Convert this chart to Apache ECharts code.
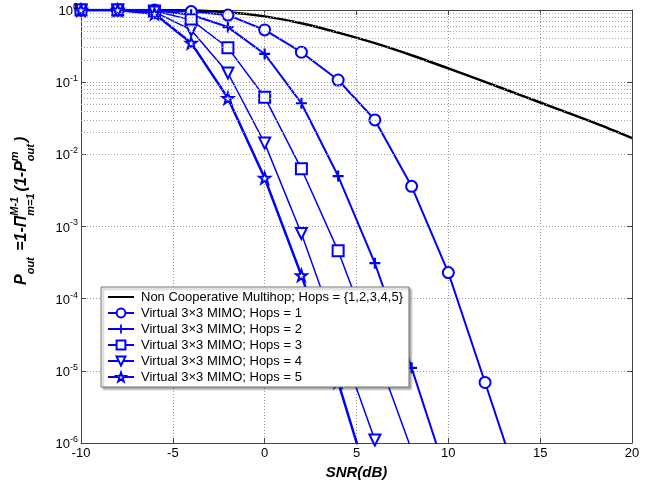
<!DOCTYPE html>
<html>
<head>
<meta charset="utf-8">
<script src="https://cdn.jsdelivr.net/npm/echarts@6/dist/echarts.min.js"></script>
<style>
  html, body { margin: 0; padding: 0; background: #fff; }
  #chart { width: 662px; height: 482px; }
</style>
</head>
<body>
<div id="chart"></div>
<script>
// SNR grid (dB) shared by all curves
const snrDb = [-10, -8, -6, -4, -2, 0, 2, 4, 6, 8, 10, 12, 14, 16, 18, 20]

// outage probability
const nonCoop = [1, 1, 0.9988, 0.986, 0.931, 0.816, 0.656, 0.486, 0.347, 0.236, 0.155, 0.101, 0.065, 0.042, 0.027, 0.0168]
const hops1 = [1, 1, 1, 0.95, 0.85, 0.53, 0.26, 0.107, 0.030, 0.0036, 2.3e-4, 6.9e-6, 2e-7]
const hops2 = [1, 1, 0.99, 0.86, 0.58, 0.246, 0.051, 0.005, 3.1e-4, 1.1e-5, 3e-7]
const hops3 = [1, 1, 0.97, 0.73, 0.30, 0.062, 0.0063, 4.6e-4, 2e-5, 8e-7]
const hops4 = [1, 1, 0.94, 0.53, 0.134, 0.0143, 8e-4, 3e-5, 1.1e-6]
const hops5 = [1, 1, 0.89, 0.35, 0.06, 0.0047, 2.1e-4, 7e-6, 1.5e-7]

const seriesNames = [
  'Non Cooperative Multihop; Hops = {1,2,3,4,5}',
  'Virtual 3\u00d73 MIMO; Hops = 1',
  'Virtual 3\u00d73 MIMO; Hops = 2',
  'Virtual 3\u00d73 MIMO; Hops = 3',
  'Virtual 3\u00d73 MIMO; Hops = 4',
  'Virtual 3\u00d73 MIMO; Hops = 5'
]

// log axis minor grid: 2..9 in every decade
const decades = [-6, -5, -4, -3, -2, -1]
const minorSteps = [2, 3, 4, 5, 6, 7, 8, 9]

const BLUE = '#0000ff'
const FONT = 'Liberation Sans, Arial, sans-serif'
const AXIS = '#444'

function pairs (ys) {
  return ys.map((y, i) => [snrDb[i], y])
}

const minorLines = []
decades.forEach(d => minorSteps.forEach(m => minorLines.push({ yAxis: m * Math.pow(10, d) })))

// y axis title built from pieces (sub/superscripts stacked like the original)
function measure (txt, font) {
  const ctx = measure.ctx || (measure.ctx = document.createElement('canvas').getContext('2d'))
  ctx.font = font
  return ctx.measureText(txt).width
}
function buildYTitle () {
  const mainFont = 'italic bold 16px ' + FONT
  const smallFont = 'italic bold 11px ' + FONT
  const parts = [
    { t: 'P' }, { sub: 'out' }, { t: ' =1-\u03a0' }, { sup: 'M-1', sub: 'm=1' },
    { t: '(1-P' }, { sup: 'm', sub: 'out' }, { t: ')' }
  ]
  const kids = []
  let x = 0
  const txt = (s, f, y) => ({
    type: 'text',
    x: x,
    y: y,
    style: { text: s, font: f, fill: '#000', align: 'left', verticalAlign: 'middle', textAlign: 'left', textVerticalAlign: 'middle' }
  })
  parts.forEach(p => {
    if (p.t) {
      kids.push(txt(p.t, mainFont, 0))
      x += measure(p.t, mainFont)
    } else {
      let w = 0
      if (p.sup) { kids.push(txt(p.sup, smallFont, -7)); w = measure(p.sup, smallFont) }
      if (p.sub) { kids.push(txt(p.sub, smallFont, 9)); w = Math.max(w, measure(p.sub, smallFont)) }
      x += w + 2
    }
  })
  return { type: 'group', x: 22, y: 285, rotation: Math.PI / 2, children: kids }
}

const lineSeries = (name, data, symbol, width, itemStyle) => ({
  name: name,
  type: 'line',
  data: pairs(data),
  symbol: symbol,
  symbolSize: 11,
  showSymbol: true,
  lineStyle: { color: BLUE, width: width },
  itemStyle: itemStyle,
  emphasis: { disabled: true },
  z: 3
})
const hollow = { color: '#fff', borderColor: BLUE, borderWidth: 2 }

const logAxis = extra => Object.assign({
  type: 'log',
  logBase: 10,
  min: 1e-6,
  max: 1,
  axisLine: { show: true, onZero: false, lineStyle: { color: AXIS, width: 1 } },
  axisTick: { show: true, inside: true, length: 5, lineStyle: { color: AXIS } },
  axisLabel: { show: false },
  splitLine: { show: false }
}, extra)

const chart = echarts.init(document.getElementById('chart'), null, { renderer: 'canvas' })
chart.setOption({
  backgroundColor: '#fff',
  animation: false,
  textStyle: { fontFamily: FONT },
  grid: { left: 81, right: 30, top: 10, bottom: 39, outerBoundsMode: 'none', containLabel: false },
  xAxis: [{
    type: 'value',
    min: -10,
    max: 20,
    interval: 5,
    name: 'SNR(dB)',
    nameLocation: 'middle',
    nameGap: 21,
    nameTextStyle: { fontSize: 15, fontWeight: 'bold', fontStyle: 'italic', color: '#000', fontFamily: FONT },
    axisLine: { onZero: false, lineStyle: { color: AXIS, width: 1 } },
    axisTick: { inside: true, length: 5, lineStyle: { color: AXIS } },
    axisLabel: { color: '#000', fontSize: 13, margin: 4, fontFamily: FONT },
    splitLine: { show: true, lineStyle: { color: '#999', type: [1, 2], width: 1 } }
  }, {
    type: 'value',
    position: 'top',
    min: -10,
    max: 20,
    interval: 5,
    axisLine: { onZero: false, lineStyle: { color: AXIS, width: 1 } },
    axisTick: { inside: true, length: 5, lineStyle: { color: AXIS } },
    axisLabel: { show: false },
    splitLine: { show: false }
  }],
  yAxis: [
    logAxis({ splitLine: { show: true, lineStyle: { color: '#999', type: [1, 2], width: 1 } } }),
    logAxis({ position: 'right' }),
    // labels only, kept above the markers sitting on the left edge
    logAxis({
      position: 'left',
      z: 6,
      axisLine: { show: false },
      axisTick: { show: false },
      axisLabel: {
        color: '#000',
        margin: 3,
        formatter: v => '{b|10}{e|' + Math.round(Math.log10(v)) + '}',
        rich: {
          b: { fontSize: 13, fontFamily: FONT, color: '#000', verticalAlign: 'bottom', lineHeight: 16 },
          e: { fontSize: 9, fontFamily: FONT, color: '#000', verticalAlign: 'top', lineHeight: 16 }
        }
      }
    })
  ],
  legend: {
    orient: 'vertical',
    left: 101,
    top: 287,
    data: [{ name: seriesNames[0], itemStyle: { opacity: 0 } }].concat(seriesNames.slice(1)),
    backgroundColor: '#fff',
    borderColor: '#777',
    borderWidth: 1,
    borderRadius: 0,
    padding: [3, 6, 3, 6],
    itemGap: 2,
    itemWidth: 26,
    itemHeight: 11,
    shadowColor: 'rgba(0,0,0,0.35)',
    shadowBlur: 2,
    shadowOffsetX: 2,
    shadowOffsetY: 2,
    textStyle: { fontSize: 13, color: '#000', fontFamily: FONT, lineHeight: 14, padding: [0, 0, 0, 2] }
  },
  graphic: [buildYTitle()],
  series: [
    {
      name: 'minor-grid',
      type: 'line',
      data: [],
      silent: true,
      z: 1,
      markLine: {
        silent: true,
        symbol: 'none',
        label: { show: false },
        lineStyle: { color: '#aaa', type: [1, 2], width: 1 },
        emphasis: { disabled: true },
        animation: false,
        data: minorLines
      }
    },
    {
      name: seriesNames[0],
      type: 'line',
      data: pairs(nonCoop),
      smooth: 0.3,
      showSymbol: false,
      symbol: 'none',
      lineStyle: { color: '#000', width: 2.5 },
      itemStyle: { color: '#000' },
      emphasis: { disabled: true },
      z: 2
    },
    lineSeries(seriesNames[1], hops1, 'circle', 2, hollow),
    lineSeries(seriesNames[2], hops2, 'path://M4,0H6V4H10V6H6V10H4V6H0V4H4Z', 2, { color: BLUE }),
    lineSeries(seriesNames[3], hops3, 'rect', 1.5, hollow),
    lineSeries(seriesNames[4], hops4, 'path://M0,0L10,0L5,9Z', 1.5, hollow),
    lineSeries(seriesNames[5], hops5, 'path://M5,0L6.2,3.4L9.8,3.5L6.9,5.7L8,9.2L5,7.1L2,9.2L3.1,5.7L0.2,3.5L3.8,3.4Z', 2.5, hollow)
  ]
})
</script>
</body>
</html>
